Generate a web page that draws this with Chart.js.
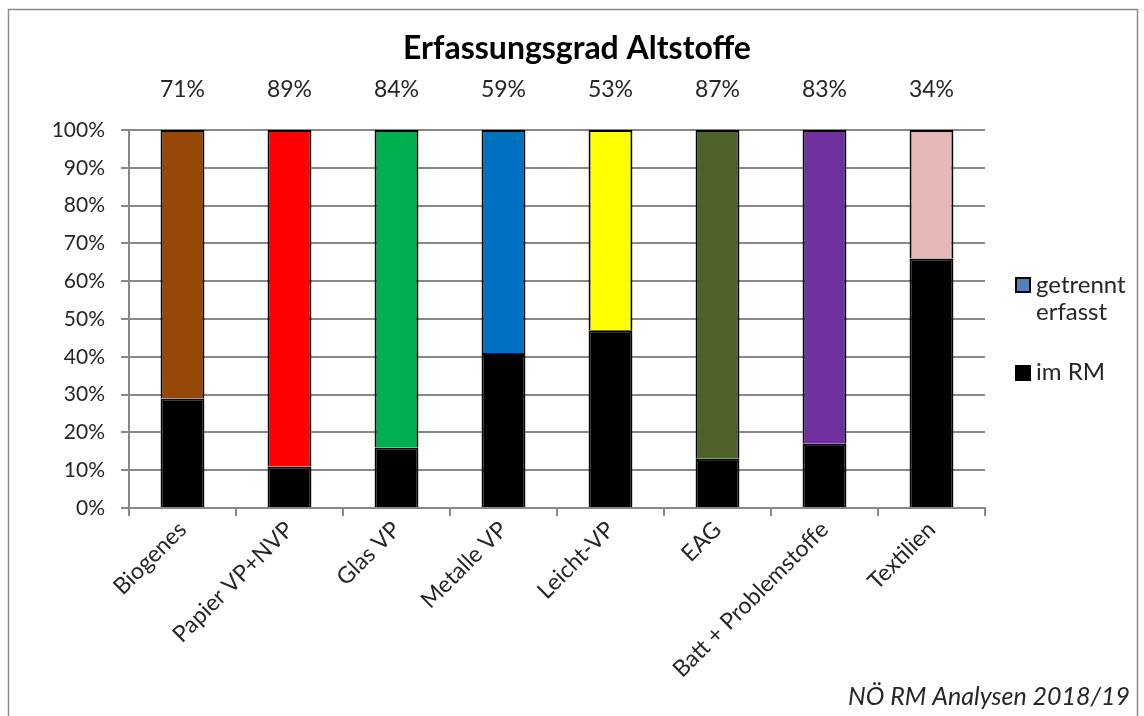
<!DOCTYPE html>
<html><head><meta charset="utf-8">
<script src="https://cdn.jsdelivr.net/npm/chart.js@4"></script>
<style>html,body{margin:0;padding:0;background:#fff}#wrap{width:1144px;height:716px;position:relative}</style>
</head><body><div id="wrap"><canvas id="c" width="1144" height="716"></canvas></div>
<script>
const categories = ["Biogenes","Papier VP+NVP","Glas VP","Metalle VP","Leicht-VP","EAG","Batt + Problemstoffe","Textilien"];
const imRM = [29, 11, 16, 41, 47, 13, 17, 66];
const getrennt = [71, 89, 84, 59, 53, 87, 83, 34];
const topLabels = ["71%","89%","84%","59%","53%","87%","83%","34%"];
const yTicks = [0,10,20,30,40,50,60,70,80,90,100];
const barColors = ["#974706","#FF0000","#00B050","#0070C0","#FFFF00","#4F6228","#7030A0","#E6B9B8"];

const FONT = "Lato, 'Open Sans', sans-serif";
const TXT = "#262626";
const GRID = "#888888";

const deco = {
  id: 'deco',
  beforeDraw(chart) {
    const ctx = chart.ctx;
    ctx.save();
    ctx.fillStyle = '#fff';
    ctx.fillRect(0, 0, chart.width, chart.height);
    ctx.strokeStyle = '#8c8c8c';
    ctx.lineWidth = 1.5;
    ctx.strokeRect(8.5, 9.5, 1129, 730);
    ctx.restore();
  },
  afterDraw(chart) {
    const ctx = chart.ctx;
    const xs = chart.scales.x, ys = chart.scales.y;
    ctx.save();
    // title
    ctx.fillStyle = '#000';
    ctx.font = "bold 32px " + FONT;
    ctx.textAlign = 'center';
    ctx.textBaseline = 'alphabetic';
    ctx.fillText("Erfassungsgrad Altstoffe", 577, 59);
    // top labels
    ctx.font = "23px " + FONT;
    ctx.fillStyle = TXT;
    const yTop = ys.getPixelForValue(100);
    topLabels.forEach((t, i) => {
      ctx.fillText(t, xs.getPixelForValue(i), yTop - 33);
    });
    // legend
    ctx.textAlign = 'left';
    ctx.font = "24px " + FONT;
    ctx.lineWidth = 2;
    ctx.fillStyle = '#4F81BD';
    ctx.fillRect(1016, 278, 14, 14);
    ctx.strokeStyle = '#000';
    ctx.strokeRect(1016, 278, 14, 14);
    ctx.fillStyle = '#000';
    ctx.fillRect(1015, 365, 16, 16);
    ctx.fillStyle = TXT;
    ctx.fillText("getrennt", 1036, 293);
    ctx.fillText("erfasst", 1036, 320);
    ctx.fillText("im RM", 1036, 380);
    // footer
    ctx.font = "italic 25px " + FONT;
    ctx.textAlign = 'right';
    ctx.fillText("NÖ RM Analysen 2018/19", 1130, 705);
    ctx.restore();
  }
};

new Chart(document.getElementById('c'), {
  type: 'bar',
  data: {
    labels: categories,
    datasets: [
      { label: 'im RM', data: imRM, backgroundColor: '#000', borderColor: '#000', borderWidth: 2, borderSkipped: 'start' },
      { label: 'getrennt erfasst', data: getrennt, backgroundColor: barColors, borderColor: '#000', borderWidth: 2, borderSkipped: 'start' }
    ]
  },
  options: {
    responsive: false,
    animation: false,
    devicePixelRatio: 1,
    datasets: { bar: { categoryPercentage: 1, barPercentage: 0.41 } },
    layout: { padding: { left: 0, top: 130, right: 159, bottom: 0 } },
    plugins: { legend: { display: false }, title: { display: false }, tooltip: { enabled: false } },
    scales: {
      x: {
        stacked: true,
        afterFit(s) { s.height = 208; },
        grid: { offset: true, drawOnChartArea: false, drawTicks: true, tickLength: 8, color: GRID, lineWidth: 2 },
        border: { color: GRID, width: 2 },
        ticks: { color: TXT, font: { family: FONT, size: 23 }, maxRotation: 45, minRotation: 45, padding: 0 }
      },
      y: {
        stacked: true,
        min: 0, max: 100,
        afterFit(s) { s.width = 129; },
        afterBuildTicks(s) { s.ticks = yTicks.map(v => ({ value: v })); },
        grid: { color: GRID, lineWidth: 2, tickLength: 8 },
        border: { color: GRID, width: 2 },
        ticks: { color: TXT, font: { family: FONT, size: 21 }, padding: 16, callback: v => v + '%' }
      }
    }
  },
  plugins: [deco]
});
</script></body></html>
